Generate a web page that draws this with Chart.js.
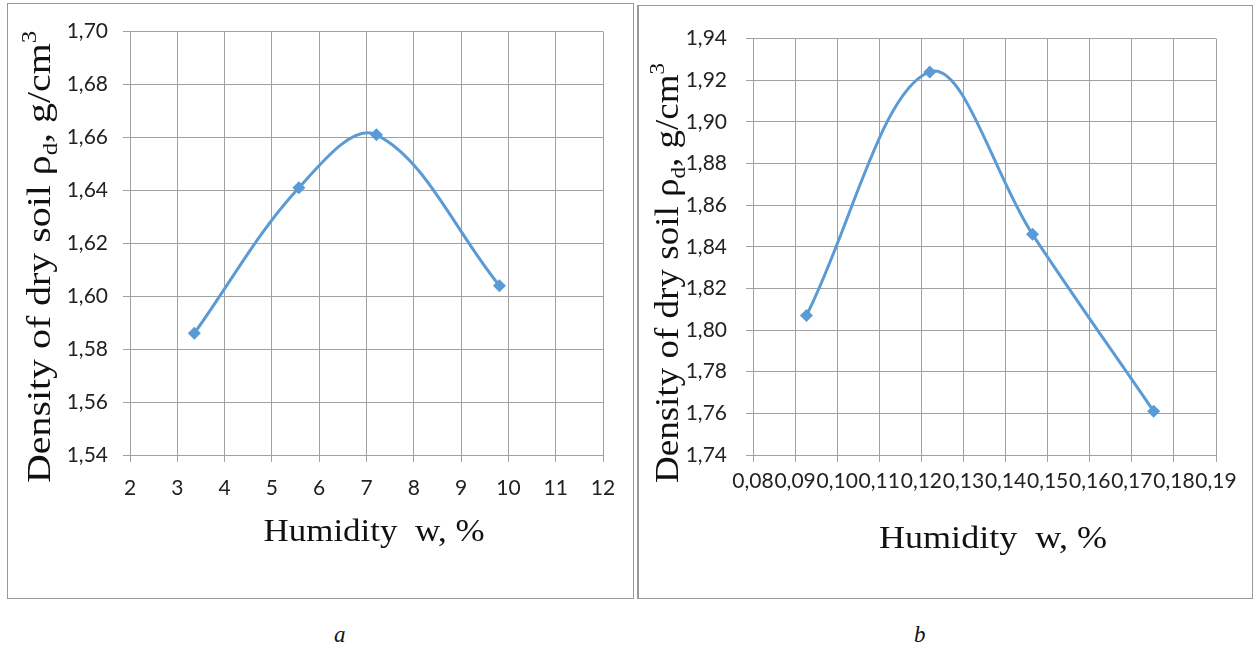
<!DOCTYPE html>
<html>
<head>
<meta charset="utf-8">
<script src="https://cdn.jsdelivr.net/npm/chart.js@4.4.1/dist/chart.umd.min.js"></script>
<style>
  body { margin: 0; background: #fff; width: 1255px; height: 651px; position: relative; overflow: hidden; }
  .frame { position: absolute; border: 1px solid #9a9a9a; box-sizing: border-box; }
  .box { position: absolute; }
  .cap { position: absolute; font: italic 23px "Liberation Serif", serif; color: #111; }
</style>
</head>
<body>
<div class="frame" style="left:7px;top:3px;width:627px;height:596px"></div>
<div class="frame" style="left:637px;top:5px;width:616px;height:594px;border-left-width:2px"></div>
<div class="box" style="left:8px;top:4px;width:624px;height:592px"><canvas id="chart-a"></canvas></div>
<div class="box" style="left:640px;top:7px;width:610px;height:589px"><canvas id="chart-b"></canvas></div>
<div class="cap" style="left:334px;top:622px">a</div>
<div class="cap" style="left:914px;top:622px">b</div>

<script>
"use strict";

// chart a: humidity in %, density in g/cm3
const humidityA = [3.36, 5.57, 7.21, 9.81];
const densityA = [1.586, 1.641, 1.661, 1.604];
const xTicksA = [2, 3, 4, 5, 6, 7, 8, 9, 10, 11, 12];
const yTicksA = [1.54, 1.56, 1.58, 1.60, 1.62, 1.64, 1.66, 1.68, 1.70];

// chart b
const humidityB = [0.0927, 0.1220, 0.1464, 0.1752];
const densityB = [1.807, 1.924, 1.846, 1.761];
const xTicksB = [0.08, 0.09, 0.10, 0.11, 0.12, 0.13, 0.14, 0.15, 0.16, 0.17, 0.18, 0.19];
const yTicksB = [1.74, 1.76, 1.78, 1.80, 1.82, 1.84, 1.86, 1.88, 1.90, 1.92, 1.94];

const xTitle = "Humidity  w, %";
const yTitle = [
  { t: "Density of dry soil \u03c1" },
  { t: "d", sub: true },
  { t: ", g/cm" },
  { t: "3", sup: true }
];

const SERIF = '"Liberation Serif", "Times New Roman", serif';
const BLUE = "#5b9bd5";
const GRID = "#a0a0a0";

function comma(v) {
  return v.toFixed(2).replace(".", ",");
}

// width of a list of text runs (sub/superscripts smaller)
function runsWidth(ctx, runs, size) {
  let w = 0;
  runs.forEach(r => {
    const s = (r.sub || r.sup) ? size * 0.62 : size;
    ctx.font = s + "px " + SERIF;
    w += ctx.measureText(r.t).width;
  });
  return w;
}

function paintRuns(ctx, runs, size, x) {
  runs.forEach(r => {
    const s = (r.sub || r.sup) ? size * 0.62 : size;
    ctx.font = s + "px " + SERIF;
    const dy = r.sub ? size * 0.2 : (r.sup ? -size * 0.4 : 0);
    ctx.fillText(r.t, x, dy);
    x += ctx.measureText(r.t).width;
  });
}

// draws both axis titles, the y one rotated and overlapping ticks like in the original
const axisTitles = {
  id: "axisTitles",
  afterDraw(chart, args, opts) {
    const ctx = chart.ctx;
    ctx.save();
    ctx.fillStyle = "#111";
    ctx.textAlign = "left";
    ctx.textBaseline = "alphabetic";

    // x title
    const xr = [{ t: xTitle }];
    let w = runsWidth(ctx, xr, opts.xSize);
    ctx.save();
    ctx.translate(opts.xCx, opts.xBase);
    ctx.scale(opts.xLen / w, 1);
    paintRuns(ctx, xr, opts.xSize, -w / 2);
    ctx.restore();

    // y title
    w = runsWidth(ctx, yTitle, opts.ySize);
    ctx.save();
    ctx.translate(opts.yBase, opts.yCy);
    ctx.rotate(-Math.PI / 2);
    ctx.scale(opts.yLen / w, 1);
    paintRuns(ctx, yTitle, opts.ySize, -w / 2);
    ctx.restore();

    ctx.restore();
  }
};

function makeChart(id, xs, ys, xTicks, yTicks, xFmt, lay, titles) {
  const points = [];
  for (let i = 0; i < xs.length; i++) {
    points.push({ x: xs[i], y: ys[i] });
  }
  const tickFont = { family: "Lato", size: 21 };
  return new Chart(document.getElementById(id), {
    type: "scatter",
    data: {
      datasets: [{
        data: points,
        showLine: true,
        tension: 0.36,
        borderColor: BLUE,
        borderWidth: 3,
        backgroundColor: BLUE,
        pointStyle: "rectRot",
        pointRadius: 6.5,
        pointBorderWidth: 0,
        pointBackgroundColor: BLUE
      }]
    },
    options: {
      responsive: true,
      maintainAspectRatio: false,
      animation: false,
      layout: { padding: { left: 0, top: lay.top, right: lay.right, bottom: 0 } },
      plugins: {
        legend: { display: false },
        tooltip: { enabled: false },
        axisTitles: titles
      },
      scales: {
        x: {
          type: "linear",
          min: xTicks[0],
          max: xTicks[xTicks.length - 1],
          afterBuildTicks: s => { s.ticks = xTicks.map(v => ({ value: v })); },
          afterFit: s => { s.height = lay.xh; },
          grid: { color: GRID, lineWidth: 1, tickLength: 7, tickColor: GRID },
          border: { color: GRID, width: 1 },
          ticks: {
            autoSkip: false, maxRotation: 0, minRotation: 0,
            padding: lay.xPad, color: "#222", font: tickFont,
            callback: v => xFmt(v)
          }
        },
        y: {
          type: "linear",
          min: yTicks[0],
          max: yTicks[yTicks.length - 1],
          afterBuildTicks: s => { s.ticks = yTicks.map(v => ({ value: v })); },
          afterFit: s => { s.width = lay.yw; },
          grid: { color: GRID, lineWidth: 1, tickLength: 7, tickColor: GRID },
          border: { color: GRID, width: 1 },
          ticks: {
            autoSkip: false, padding: lay.yPad, color: "#222", font: tickFont,
            callback: v => comma(v)
          }
        }
      }
    },
    plugins: [axisTitles]
  });
}

makeChart("chart-a", humidityA, densityA, xTicksA, yTicksA, v => String(v),
  { top: 27, right: 29, xh: 141, yw: 122, xPad: 14, yPad: 15 },
  { xCx: 366, xBase: 537, xSize: 32, xLen: 221, yBase: 42, yCy: 253, ySize: 34, yLen: 452 });

makeChart("chart-b", humidityB, densityB, xTicksB, yTicksB, v => comma(v),
  { top: 26, right: 34, xh: 141, yw: 113, xPad: 7, yPad: 19 },
  { xCx: 353, xBase: 541, xSize: 32, xLen: 228, yBase: 38, yCy: 266, ySize: 34, yLen: 420 });
</script>
</body>
</html>
